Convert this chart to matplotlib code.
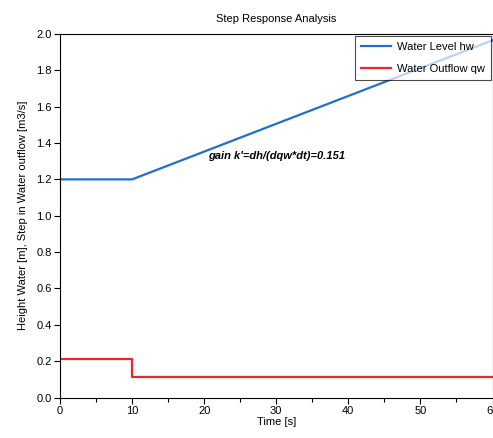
import matplotlib
matplotlib.use("Agg")
import matplotlib.pyplot as plt
from matplotlib.ticker import MultipleLocator

plt.rcParams['font.family'] = ['Liberation Sans', 'DejaVu Sans']

# Data
time_level = [0, 10, 60]
water_level = [1.2, 1.2, 1.965]
time_flow = [0, 10, 10, 60]
water_outflow = [0.212, 0.212, 0.112, 0.112]
x_ticks = [0, 10, 20, 30, 40, 50, 60]
y_ticks = [0.0, 0.2, 0.4, 0.6, 0.8, 1.0, 1.2, 1.4, 1.6, 1.8, 2.0]
annot_text = "gain k'=dh/(dqw*dt)=0.151"
annot_pos = (20.6, 1.33)

fs = 8
fig = plt.figure(figsize=(4.93, 4.38), dpi=100)
ax = fig.add_axes([60/493, 1-397.5/438, (492.5-60)/493, (397.5-34)/438])

ax.plot(time_level, water_level, color='#1f6fd2', lw=1.6, label='Water Level hw')
ax.plot(time_flow, water_outflow, color='#e8282b', lw=1.6, label='Water Outflow qw')

ax.set_xlim(0, 60)
ax.set_ylim(0, 2.0)
ax.set_xticks(x_ticks)
ax.set_xticklabels([str(t) for t in x_ticks])
ax.xaxis.set_minor_locator(MultipleLocator(5))
ax.set_yticks(y_ticks)
ax.set_yticklabels([f"{v:.1f}" for v in y_ticks])
ax.tick_params(axis='both', which='major', direction='out', length=4, width=0.8, labelsize=fs, pad=2, colors='black')
ax.tick_params(axis='x', which='minor', direction='out', length=3, width=0.8)
for s in ax.spines.values():
    s.set_linewidth(0.8)

ax.set_title('Step Response Analysis', fontsize=fs, pad=9)
ax.set_xlabel('Time [s]', fontsize=fs, labelpad=1)
ax.set_ylabel('Height Water [m], Step in Water outflow [m3/s]', fontsize=fs, labelpad=6)

ax.text(annot_pos[0], annot_pos[1], annot_text, fontsize=fs, fontweight='bold', fontstyle='italic', va='center', ha='left')

leg = ax.legend(loc='upper right', fontsize=fs, fancybox=False, edgecolor='black', framealpha=0.7,
                borderaxespad=0.15, handlelength=2.7, labelspacing=1.1, borderpad=0.55, handletextpad=0.5)
leg.get_frame().set_linewidth(0.8)

fig.savefig('out.png', dpi=100)
